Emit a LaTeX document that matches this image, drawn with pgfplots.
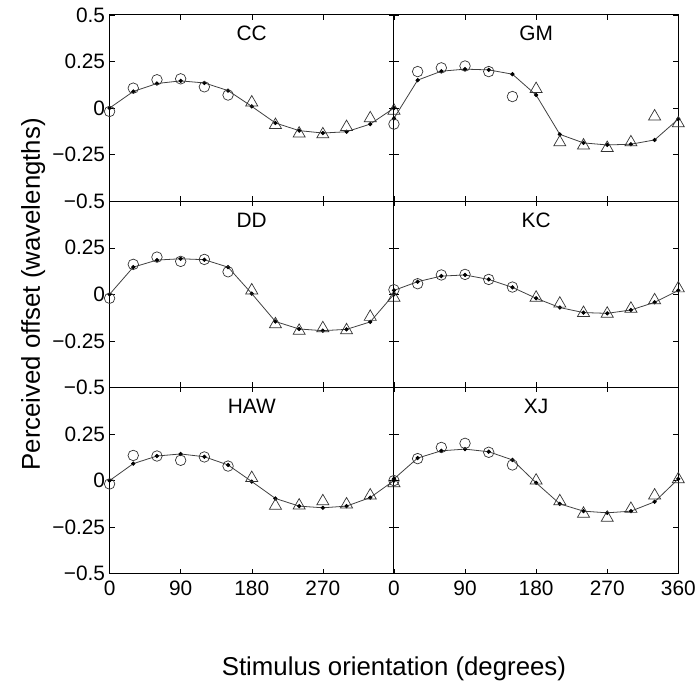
\documentclass[border=0pt]{standalone}
\usepackage{fontspec}
\setmainfont{Liberation Sans}
\usepackage{pgfplots}
\pgfplotsset{compat=1.18}
\usepgfplotslibrary{groupplots}
\definecolor{mk}{gray}{0.2}
\definecolor{ln}{gray}{0.25}
\pgfplotsset{
  panel/.style={
    width=285.5bp, height=187bp, scale only axis,
    xmin=0, xmax=360, ymin=-0.5, ymax=0.5,
    xtick={0,90,180,270,360}, ytick={-0.5,-0.25,0,0.25,0.5},
    tick align=inside, xtick pos=both, ytick pos=both,
    major tick length=5bp,
    tick style={black, line width=0.5bp},
    axis line style={line width=0.9bp, black},
    clip=false,
    tick label style={font=\fontsize{21}{24}\selectfont},
    xticklabel style={yshift=-4bp},
    yticklabel style={xshift=-1bp},
    /pgf/number format/assume math mode=true,
    xticklabels={}, yticklabels={},
  },
  fit/.style={ln, line width=0.8bp, mark=*, mark size=1.7bp, mark options={black, fill=black}},
  circ/.style={only marks, mark=o, mark size=5.3bp, mark options={mk, line width=0.7bp}},
  tri/.style={only marks, mark=triangle, mark size=7bp, mark options={mk, line width=0.7bp}},
}
\newcommand{\ptitle}[1]{\node[font=\fontsize{21}{24}\selectfont] at (rel axis cs:0.5,0.9) {#1};}
\begin{document}
\begin{tikzpicture}
\begin{groupplot}[group style={group size=2 by 3, horizontal sep=0pt, vertical sep=0pt}, panel]
% CC
\nextgroupplot[yticklabels={−0.5,−0.25,0,0.25,0.5}]
\addplot[fit] coordinates {(0,0)(30,0.089)(60,0.132)(90,0.146)(120,0.135)(150,0.094)(180,0.009)(210,-0.080)(240,-0.121)(270,-0.134)(300,-0.127)(330,-0.086)(360,0)};
\addplot[circ] coordinates {(0,-0.018)(30,0.107)(60,0.152)(90,0.157)(120,0.114)(150,0.070)};
\addplot[tri] coordinates {(180,0.030)(210,-0.091)(240,-0.137)(270,-0.141)(300,-0.102)(330,-0.055)(360,-0.014)};
\ptitle{CC}
% GM
\nextgroupplot
\addplot[fit] coordinates {(0,-0.055)(30,0.150)(60,0.198)(90,0.209)(120,0.205)(150,0.182)(180,0.070)(210,-0.141)(240,-0.187)(270,-0.198)(300,-0.194)(330,-0.171)(360,-0.059)};
\addplot[circ] coordinates {(0,-0.086)(30,0.196)(60,0.216)(90,0.226)(120,0.196)(150,0.062)};
\addplot[tri] coordinates {(180,0.102)(210,-0.184)(240,-0.201)(270,-0.214)(300,-0.184)(330,-0.045)(360,-0.082)};
\ptitle{GM}
% DD
\nextgroupplot[yticklabels={−0.5,−0.25,0,0.25,{}}]
\addplot[fit] coordinates {(0,0)(30,0.146)(60,0.184)(90,0.191)(120,0.186)(150,0.146)(180,0.004)(210,-0.146)(240,-0.186)(270,-0.195)(300,-0.188)(330,-0.148)(360,0)};
\addplot[circ] coordinates {(0,-0.021)(30,0.161)(60,0.200)(90,0.177)(120,0.1875)(150,0.121)};
\addplot[tri] coordinates {(180,0.021)(210,-0.161)(240,-0.196)(270,-0.182)(300,-0.193)(330,-0.121)(360,-0.018)};
\ptitle{DD}
% KC
\nextgroupplot
\addplot[fit] coordinates {(0,0.021)(30,0.068)(60,0.098)(90,0.104)(120,0.080)(150,0.0375)(180,-0.021)(210,-0.071)(240,-0.098)(270,-0.102)(300,-0.084)(330,-0.043)(360,0.021)};
\addplot[circ] coordinates {(0,0.025)(30,0.057)(60,0.104)(90,0.107)(120,0.080)(150,0.039)};
\addplot[tri] coordinates {(180,-0.018)(210,-0.050)(240,-0.100)(270,-0.104)(300,-0.077)(330,-0.032)(360,0.032)};
\ptitle{KC}
% HAW
\nextgroupplot[yticklabels={−0.5,−0.25,0,0.25,{}}, xticklabels={0,90,180,270,{}}]
\addplot[fit] coordinates {(0,0)(30,0.091)(60,0.132)(90,0.143)(120,0.128)(150,0.084)(180,-0.005)(210,-0.096)(240,-0.137)(270,-0.146)(300,-0.137)(330,-0.091)(360,0)};
\addplot[circ] coordinates {(0,-0.018)(30,0.135)(60,0.132)(90,0.109)(120,0.127)(150,0.078)};
\addplot[tri] coordinates {(180,0.014)(210,-0.135)(240,-0.134)(270,-0.111)(300,-0.128)(330,-0.080)(360,-0.014)};
\ptitle{HAW}
% XJ
\nextgroupplot[xticklabels={0,90,180,270,360}]
\addplot[fit] coordinates {(0,0.009)(30,0.121)(60,0.160)(90,0.169)(120,0.155)(150,0.111)(180,-0.012)(210,-0.125)(240,-0.164)(270,-0.173)(300,-0.164)(330,-0.114)(360,0.009)};
\addplot[circ] coordinates {(0,0)(30,0.118)(60,0.178)(90,0.200)(120,0.152)(150,0.084)};
\addplot[tri] coordinates {(180,0)(210,-0.111)(240,-0.178)(270,-0.200)(300,-0.152)(330,-0.080)(360,0.007)};
\ptitle{XJ}
\end{groupplot}
\node[rotate=90, anchor=base, font=\fontsize{26}{30}\selectfont] at ([xshift=-70bp]group c1r2.west) {Perceived offset (wavelengths)};
\node[anchor=base, font=\fontsize{26}{30}\selectfont] at ([yshift=-102bp]group c1r3.south east) {Stimulus orientation (degrees)};
\useasboundingbox ([shift={(-110bp,-115bp)}]group c1r3.south west) rectangle ([shift={(589bp,576bp)}]group c1r3.south west);
\end{tikzpicture}
\end{document}
